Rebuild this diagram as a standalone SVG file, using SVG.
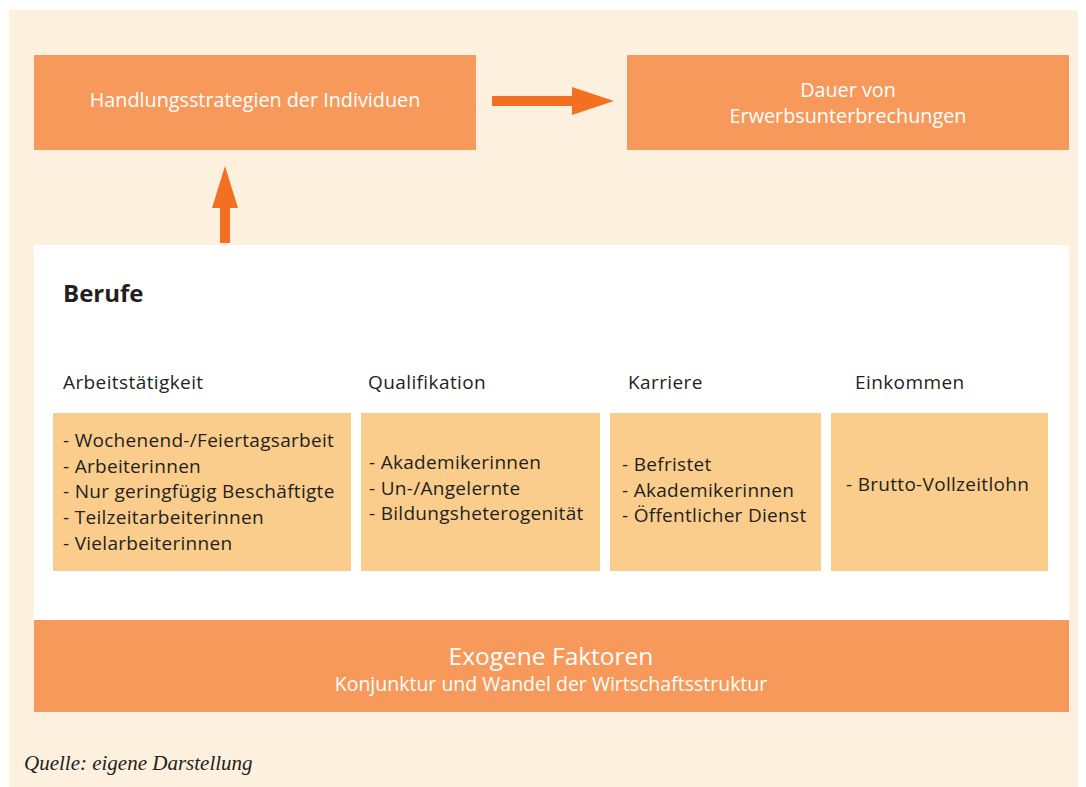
<svg xmlns="http://www.w3.org/2000/svg" width="1086" height="787" viewBox="0 0 1086 787">
<style>
.bg{fill:#FDF0DE}
.orange{fill:#F7995B}
.yellow{fill:#FBCD8C}
.arrow{fill:#F37021}
.wt{font-family:"Open Sans","Liberation Sans",sans-serif;fill:#FFFFFF;text-anchor:middle}
.dk{font-family:"Open Sans","Liberation Sans",sans-serif;fill:#231F20}
.item{font-size:19px;letter-spacing:0.3px}
.cat{font-size:19px;letter-spacing:0.4px}
</style>
<rect x="0" y="0" width="1086" height="787" fill="#FFFFFF"/>
<rect class="bg" x="9" y="10" width="1069" height="777"/>
<rect x="34" y="245" width="1035" height="376" fill="#FFFFFF"/>
<g id="connectors">
<polygon class="arrow" points="492,96 572,96 572,87 614,101 572,115 572,106 492,106"/>
<polygon class="arrow" points="220,243 220,208 212,208 225,166 238,208 230,208 230,243"/>
</g>
<g id="node-handlung">
<rect class="orange" x="34" y="55" width="442" height="95"/>
<text class="wt" x="255" y="107" font-size="19.8">Handlungsstrategien der Individuen</text>
</g>
<g id="node-dauer">
<rect class="orange" x="627" y="55" width="442" height="95"/>
<text class="wt" x="848" y="97" font-size="19.8">Dauer von</text>
<text class="wt" x="848" y="123" font-size="19.8">Erwerbsunterbrechungen</text>
</g>
<g id="node-berufe">
<text class="dk" x="63" y="302" font-size="24" font-weight="bold">Berufe</text>
<text class="dk cat" x="63" y="389">Arbeitstätigkeit</text>
<text class="dk cat" x="368" y="389">Qualifikation</text>
<text class="dk cat" x="628" y="389">Karriere</text>
<text class="dk cat" x="855" y="389">Einkommen</text>
</g>
<g id="node-arbeit">
<rect class="yellow" x="53" y="413" width="298" height="158"/>
<text class="dk item" x="63" y="447">- Wochenend-/Feiertagsarbeit</text>
<text class="dk item" x="63" y="473">- Arbeiterinnen</text>
<text class="dk item" x="63" y="498">- Nur geringfügig Beschäftigte</text>
<text class="dk item" x="63" y="524">- Teilzeitarbeiterinnen</text>
<text class="dk item" x="63" y="550">- Vielarbeiterinnen</text>
</g>
<g id="node-qualifikation">
<rect class="yellow" x="361" y="413" width="239" height="158"/>
<text class="dk item" x="369" y="469">- Akademikerinnen</text>
<text class="dk item" x="369" y="495">- Un-/Angelernte</text>
<text class="dk item" x="369" y="520">- Bildungsheterogenität</text>
</g>
<g id="node-karriere">
<rect class="yellow" x="610" y="413" width="211" height="158"/>
<text class="dk item" x="622" y="471">- Befristet</text>
<text class="dk item" x="622" y="497">- Akademikerinnen</text>
<text class="dk item" x="622" y="522">- Öffentlicher Dienst</text>
</g>
<g id="node-einkommen">
<rect class="yellow" x="831" y="413" width="217" height="158"/>
<text class="dk item" x="846" y="491">- Brutto-Vollzeitlohn</text>
</g>
<g id="node-exogen">
<rect class="orange" x="34" y="620" width="1035" height="92"/>
<text class="wt" x="551" y="665" font-size="24.5">Exogene Faktoren</text>
<text class="wt" x="551" y="691" font-size="19.5">Konjunktur und Wandel der Wirtschaftsstruktur</text>
</g>
<text x="24" y="770" font-family="'Liberation Serif',serif" font-style="italic" font-size="21" fill="#231F20">Quelle: eigene Darstellung</text>
</svg>
